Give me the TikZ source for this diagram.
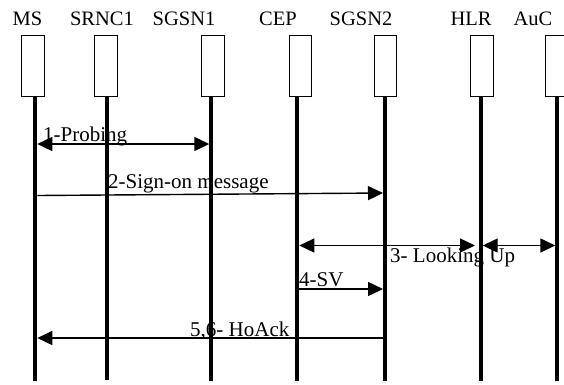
\documentclass[tikz,border=0pt]{standalone}
\usepackage{fontspec}
\setmainfont{Liberation Serif}
\usetikzlibrary{arrows.meta}
\begin{document}
\begin{tikzpicture}[x=1pt,y=-1pt,
  ent/.style={draw=black,line width=1pt,minimum width=22.5pt,minimum height=61pt,inner sep=0pt,fill=white},
  life/.style={line width=4pt},
  msg/.style={line width=1.4pt},
  tip/.tip={Triangle[length=15pt,width=14pt]},
  hdr/.style={font=\fontsize{20.5}{24}\selectfont,anchor=base,inner sep=0pt},
  lbl/.style={font=\fontsize{21}{24}\selectfont,anchor=base west,inner sep=0pt}]
\useasboundingbox (0,0) rectangle (564,384);
% headers
\node[hdr] (tMS) at (27.5,25) {MS};
\node[hdr] (tSRNC) at (102,25) {SRNC1};
\node[hdr] (tSGSN1) at (184,25) {SGSN1};
\node[hdr] (tCEP) at (278,25) {CEP};
\node[hdr] (tSGSN2) at (361,25) {SGSN2};
\node[hdr] (tHLR) at (471,25) {HLR};
\node[hdr] (tAuC) at (533,25) {AuC};
% lifelines
\coordinate (uMS) at (35.3,96); \coordinate (dMS) at (35.3,381);
\coordinate (uSRNC) at (107,96); \coordinate (dSRNC) at (107,379.5);
\coordinate (uSGSN1) at (211.3,96); \coordinate (dSGSN1) at (211.3,381);
\coordinate (uCEP) at (297.3,96); \coordinate (dCEP) at (297.3,381);
\coordinate (uSGSN2) at (385,96); \coordinate (dSGSN2) at (385,381);
\coordinate (uHLR) at (480.7,96); \coordinate (dHLR) at (480.7,381);
\coordinate (uAuC) at (557.3,96); \coordinate (dAuC) at (557.3,381);
\foreach \n in {MS,SRNC,SGSN1,CEP,SGSN2,HLR,AuC} \draw[life] (u\n) -- (d\n);
% boxes
\node[ent] (bMS) at (33,66.3) {};
\node[ent] (bSRNC) at (105.8,66.3) {};
\node[ent] (bSGSN1) at (213,66.3) {};
\node[ent] (bCEP) at (300.3,66.3) {};
\node[ent] (bSGSN2) at (385.3,66.3) {};
\node[ent] (bHLR) at (482.2,66.3) {};
\node[ent] (bAuC) at (557,66.3) {};
% message endpoints
\coordinate (m1a) at (37.3,144); \coordinate (m1b) at (209.3,144);
\coordinate (m2a) at (37.3,195.5); \coordinate (m2b) at (383,193);
\coordinate (m3a) at (299.3,245.5); \coordinate (m3b) at (475,245.5);
\coordinate (m3c) at (482.7,245.5); \coordinate (m3d) at (555.3,245.5);
\coordinate (m4a) at (299.3,289); \coordinate (m4b) at (383,289);
\coordinate (m5a) at (383,338); \coordinate (m5b) at (37.3,338);
% messages
\draw[msg,{tip}-{tip}] (m1a) -- (m1b);
\draw[msg,-{tip}] (m2a) -- (m2b);
\draw[msg,{tip}-{tip}] (m3a) -- (m3b);
\draw[msg,{tip}-{tip}] (m3c) -- (m3d);
\draw[msg,-{tip}] (m4a) -- (m4b);
\draw[msg,-{tip}] (m5a) -- (m5b);
% labels
\node[lbl] (l1) at (43,141) {1-Probing};
\node[lbl] (l2) at (108,188) {2-Sign-on message};
\node[lbl] (l3) at (390,262) {3- Looking Up};
\node[lbl] (l4) at (299,286) {4-SV};
\node[lbl] (l5) at (190,336) {5,6- HoAck};
\end{tikzpicture}
\end{document}
